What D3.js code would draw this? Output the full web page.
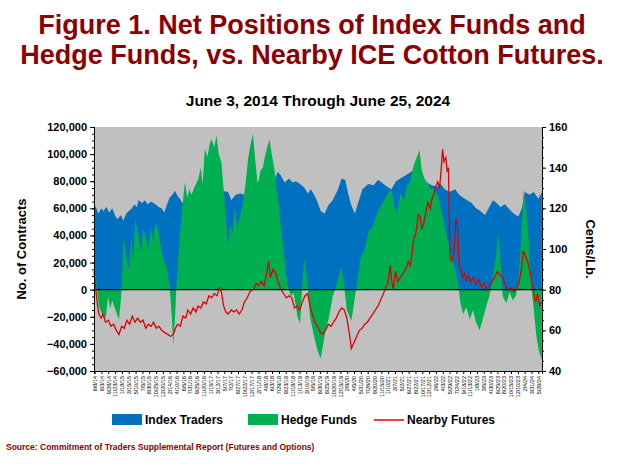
<!DOCTYPE html>
<html><head><meta charset="utf-8">
<script src="https://cdn.jsdelivr.net/npm/d3@7"></script>
<style>body{margin:0;background:#fff}svg{font-family:Arial,"Liberation Sans",sans-serif}</style>
</head><body><svg width="624" height="468"></svg>
<script>
// [decimal year, thousands of contracts / cents per lb]
const indexTraders = [[2014.42,63],[2014.47,60],[2014.52,56],[2014.58,60],[2014.63,58],[2014.7,61],[2014.76,57],[2014.83,60],[2014.9,54],[2014.95,52],[2015.02,55],[2015.08,51],[2015.14,56],[2015.2,58],[2015.27,60],[2015.33,63],[2015.38,61],[2015.42,66],[2015.5,64],[2015.56,66],[2015.63,63],[2015.7,65],[2015.8,63],[2015.87,61],[2015.94,60],[2016.0,57],[2016.06,63],[2016.12,68],[2016.18,70],[2016.24,73],[2016.3,69],[2016.35,67],[2016.4,64],[2016.46,66],[2016.6,70],[2016.7,71],[2016.9,72],[2017.2,71],[2017.3,73],[2017.43,72],[2017.5,66],[2017.6,70],[2017.7,71],[2017.8,70],[2018.0,77],[2018.1,79],[2018.2,82],[2018.3,80],[2018.4,85],[2018.48,82],[2018.55,87],[2018.62,84],[2018.7,79],[2018.8,82],[2018.88,79],[2018.95,80],[2019.05,78],[2019.15,75],[2019.22,71],[2019.29,74],[2019.38,69],[2019.45,64],[2019.51,58],[2019.6,56],[2019.68,62],[2019.78,66],[2019.9,74],[2019.98,82],[2020.06,81],[2020.12,72],[2020.2,62],[2020.28,56],[2020.35,64],[2020.45,74],[2020.58,78],[2020.7,77],[2020.8,81],[2020.88,79],[2021.0,76],[2021.1,74],[2021.2,80],[2021.3,82],[2021.4,84],[2021.5,86],[2021.63,89],[2021.72,85],[2021.8,80],[2021.9,79],[2022.0,77],[2022.12,76],[2022.2,78],[2022.3,74],[2022.4,72],[2022.53,74],[2022.62,70],[2022.7,68],[2022.8,66],[2022.9,64],[2023.0,60],[2023.1,58],[2023.2,55],[2023.3,61],[2023.38,66],[2023.46,64],[2023.55,61],[2023.65,63],[2023.76,59],[2023.85,56],[2023.95,54],[2024.03,60],[2024.1,72],[2024.2,70],[2024.3,72],[2024.4,67],[2024.48,72]];
const hedgeFunds = [[2014.42,20],[2014.47,5],[2014.53,-12],[2014.6,-18],[2014.68,-21],[2014.74,-5],[2014.78,-14],[2014.83,-8],[2014.9,-15],[2014.98,-22],[2015.03,-5],[2015.09,40],[2015.14,25],[2015.2,15],[2015.26,38],[2015.3,22],[2015.35,52],[2015.42,40],[2015.48,28],[2015.53,45],[2015.57,40],[2015.64,30],[2015.7,46],[2015.75,35],[2015.8,50],[2015.87,42],[2015.94,28],[2016.0,20],[2016.06,15],[2016.12,2],[2016.17,-21],[2016.2,-41],[2016.24,-20],[2016.28,8],[2016.35,40],[2016.41,63],[2016.46,79],[2016.52,68],[2016.56,74],[2016.61,70],[2016.68,76],[2016.76,81],[2016.82,90],[2016.86,78],[2016.91,104],[2016.97,98],[2017.02,108],[2017.06,111],[2017.12,105],[2017.17,114],[2017.22,100],[2017.28,94],[2017.34,70],[2017.39,48],[2017.43,33],[2017.48,48],[2017.53,42],[2017.58,60],[2017.64,45],[2017.7,55],[2017.77,65],[2017.83,80],[2017.88,97],[2017.94,108],[2017.99,115],[2018.04,95],[2018.1,77],[2018.16,88],[2018.21,90],[2018.25,97],[2018.31,105],[2018.36,111],[2018.41,100],[2018.47,89],[2018.53,72],[2018.58,60],[2018.62,45],[2018.68,30],[2018.73,12],[2018.77,3],[2018.84,-5],[2018.9,-2],[2018.95,-12],[2018.99,-20],[2019.05,-25],[2019.1,5],[2019.14,23],[2019.2,10],[2019.27,-20],[2019.36,-34],[2019.44,-45],[2019.51,-51],[2019.56,-42],[2019.62,-30],[2019.7,-20],[2019.78,-5],[2019.88,5],[2019.97,17],[2020.03,5],[2020.1,-15],[2020.2,-23],[2020.26,-10],[2020.33,5],[2020.41,24],[2020.5,30],[2020.6,44],[2020.68,46],[2020.78,57],[2020.9,64],[2021.0,70],[2021.1,74],[2021.16,62],[2021.22,56],[2021.3,71],[2021.38,66],[2021.45,77],[2021.52,80],[2021.6,92],[2021.67,98],[2021.73,103],[2021.78,88],[2021.84,82],[2021.92,78],[2021.98,74],[2022.05,75],[2022.15,68],[2022.26,52],[2022.35,38],[2022.45,24],[2022.53,15],[2022.6,4],[2022.65,-10],[2022.71,-18],[2022.78,-13],[2022.86,-22],[2022.93,-15],[2023.0,-24],[2023.08,-30],[2023.15,-22],[2023.23,-12],[2023.3,-5],[2023.38,10],[2023.45,25],[2023.5,41],[2023.55,20],[2023.6,-5],[2023.68,-10],[2023.75,-2],[2023.83,-8],[2023.9,-4],[2023.96,10],[2024.02,40],[2024.07,74],[2024.12,60],[2024.18,37],[2024.25,0],[2024.3,-15],[2024.36,-35],[2024.42,-46],[2024.48,-52]];
const nearbyFutures = [[2014.42,89],[2014.46,80],[2014.5,72],[2014.53,68],[2014.58,66],[2014.62,68],[2014.68,64],[2014.74,65],[2014.8,62],[2014.86,63],[2014.92,60],[2014.98,58],[2015.04,62],[2015.1,61],[2015.16,65],[2015.22,63],[2015.28,67],[2015.34,64],[2015.4,66],[2015.46,64],[2015.52,65],[2015.58,61],[2015.64,63],[2015.7,62],[2015.76,64],[2015.82,61],[2015.88,62],[2015.94,60],[2016.0,59],[2016.08,58],[2016.14,57],[2016.2,58],[2016.25,61],[2016.3,63],[2016.36,62],[2016.42,67],[2016.48,66],[2016.53,70],[2016.59,68],[2016.65,71],[2016.71,69],[2016.76,72],[2016.82,71],[2016.88,74],[2016.94,73],[2017.0,77],[2017.06,76],[2017.12,78],[2017.18,77],[2017.24,81],[2017.28,79],[2017.33,72],[2017.38,69],[2017.43,68],[2017.5,70],[2017.56,69],[2017.62,70],[2017.68,68],[2017.74,70],[2017.8,74],[2017.86,76],[2017.92,79],[2018.0,80],[2018.06,83],[2018.12,82],[2018.18,84],[2018.24,82],[2018.3,88],[2018.34,94],[2018.38,86],[2018.44,90],[2018.5,88],[2018.55,84],[2018.62,80],[2018.68,78],[2018.74,76],[2018.8,77],[2018.86,76],[2018.92,71],[2018.98,72],[2019.04,70],[2019.1,74],[2019.16,77],[2019.22,78],[2019.27,72],[2019.32,68],[2019.38,64],[2019.44,62],[2019.5,59],[2019.56,58],[2019.62,60],[2019.68,63],[2019.74,62],[2019.8,64],[2019.86,66],[2019.92,69],[2019.98,71],[2020.04,70],[2020.1,66],[2020.16,58],[2020.2,51],[2020.26,54],[2020.32,57],[2020.38,60],[2020.44,61],[2020.5,63],[2020.56,64],[2020.62,66],[2020.68,68],[2020.74,70],[2020.8,72],[2020.86,75],[2020.92,78],[2020.97,81],[2021.02,83],[2021.07,92],[2021.1,85],[2021.14,80],[2021.19,89],[2021.24,84],[2021.3,86],[2021.36,88],[2021.42,90],[2021.48,94],[2021.52,92],[2021.56,97],[2021.6,105],[2021.65,108],[2021.7,117],[2021.74,116],[2021.78,110],[2021.82,112],[2021.87,118],[2021.92,123],[2021.97,120],[2022.0,124],[2022.05,127],[2022.1,131],[2022.14,133],[2022.18,130],[2022.22,140],[2022.25,149],[2022.28,143],[2022.32,145],[2022.35,138],[2022.38,140],[2022.41,96],[2022.45,94],[2022.5,98],[2022.55,115],[2022.58,112],[2022.62,92],[2022.66,90],[2022.7,86],[2022.74,88],[2022.78,84],[2022.82,87],[2022.88,84],[2022.94,86],[2023.0,83],[2023.06,85],[2023.12,81],[2023.18,83],[2023.24,80],[2023.3,82],[2023.36,84],[2023.42,86],[2023.48,89],[2023.54,87],[2023.6,86],[2023.66,82],[2023.72,80],[2023.78,81],[2023.84,79],[2023.9,80],[2023.96,83],[2024.02,90],[2024.06,99],[2024.1,97],[2024.16,94],[2024.22,88],[2024.28,80],[2024.34,74],[2024.38,78],[2024.43,72],[2024.48,74]];
const legendLabels = ["Index Traders","Hedge Funds","Nearby Futures"];

const svg = d3.select("svg");
const toDate = y => { const yr = Math.floor(y); return new Date(yr, 0, 1 + Math.round((y - yr) * 365)); };
const start = new Date(2014,5,3), end = new Date(2024,5,25);
const x = d3.scaleTime().domain([start, end]).range([94, 542]);
const y = d3.scaleLinear().domain([-60000,120000]).range([371,127]);
const y2 = d3.scaleLinear().domain([40,160]).range([371,127]);

svg.append("rect").attr("x",94).attr("y",127).attr("width",448).attr("height",244).attr("fill","#c0c0c0");

const area = d3.area().x(d=>x(toDate(d[0]))).y0(y(0)).y1(d=>y(d[1]*1000));
svg.append("path").datum(indexTraders).attr("d",area).attr("fill","#0070c0");
svg.append("path").datum(hedgeFunds).attr("d",area).attr("fill","#00b050");
svg.append("line").attr("x1",94).attr("x2",542).attr("y1",y(0)).attr("y2",y(0)).attr("stroke","#000").attr("stroke-width",1.2);
svg.append("path").datum(nearbyFutures).attr("fill","none").attr("stroke","#e00000").attr("stroke-width",1.3)
  .attr("d",d3.line().x(d=>x(toDate(d[0]))).y(d=>y2(d[1])));

// axes
const ly = svg.append("g").attr("transform","translate(94,0)")
  .call(d3.axisLeft(y).tickValues(d3.range(-60000,120001,20000)).tickFormat(d3.format(",")).tickSize(4));
ly.append("g").call(d3.axisLeft(y).tickValues(d3.range(-60000,120001,5000)).tickFormat("").tickSize(2));
const ry = svg.append("g").attr("transform","translate(542,0)")
  .call(d3.axisRight(y2).tickValues(d3.range(40,161,20)).tickSize(4));
ry.append("g").call(d3.axisRight(y2).tickValues(d3.range(40,161,5)).tickFormat("").tickSize(2));
[ly,ry].forEach(g=>{g.selectAll("text").attr("font-size",11).attr("font-weight","bold").attr("fill","#000");g.select(".domain").attr("stroke","#000");});

const ticks = d3.timeWeek.every(1).range(start, end).filter((d,i)=>i%8===0);
const bx = svg.append("g").attr("transform","translate(0,371)")
  .call(d3.axisBottom(x).tickValues(ticks).tickFormat(d3.timeFormat("%-m/%-d/%y")).tickSize(3));
bx.selectAll("text").attr("font-size",5.5).attr("transform","rotate(-90)").attr("text-anchor","end")
  .attr("x",-5).attr("y",0).attr("dy","0.32em").attr("fill","#000");

svg.append("text").attr("transform","translate(26,249) rotate(-90)").attr("text-anchor","middle")
  .attr("font-size",13).attr("font-weight","bold").text("No. of Contracts");
svg.append("text").attr("transform","translate(586,249) rotate(90)").attr("text-anchor","middle")
  .attr("font-size",13).attr("font-weight","bold").text("Cents/Lb.");

// titles
svg.append("text").attr("x",312).attr("y",34).attr("text-anchor","middle").attr("font-size",27).attr("font-weight","bold").attr("fill","#8b0000").text("Figure 1. Net Positions of Index Funds and");
svg.append("text").attr("x",312).attr("y",64).attr("text-anchor","middle").attr("font-size",27).attr("font-weight","bold").attr("fill","#8b0000").text("Hedge Funds, vs. Nearby ICE Cotton Futures.");
svg.append("text").attr("x",318).attr("y",106).attr("text-anchor","middle").attr("font-size",15.5).attr("font-weight","bold").text("June 3, 2014 Through June 25, 2024");

// legend
const lg = svg.append("g").attr("font-size",12).attr("font-weight","bold");
[[112,"#0070c0"],[248,"#00b050"]].forEach((c,i)=>{
  lg.append("rect").attr("x",c[0]).attr("y",414).attr("width",30).attr("height",11).attr("fill",c[1]);
  lg.append("text").attr("x",c[0]+33).attr("y",424).text(legendLabels[i]);
});
lg.append("line").attr("x1",374).attr("x2",404).attr("y1",420).attr("y2",420).attr("stroke","#e00000").attr("stroke-width",1.5);
lg.append("text").attr("x",407).attr("y",424).text(legendLabels[2]);

svg.append("text").attr("x",6).attr("y",450).attr("font-size",8.5).attr("font-weight","bold").attr("fill","#8b0000")
  .text("Source: Commitment of Traders Supplemental Report (Futures and Options)");
</script></body></html>
